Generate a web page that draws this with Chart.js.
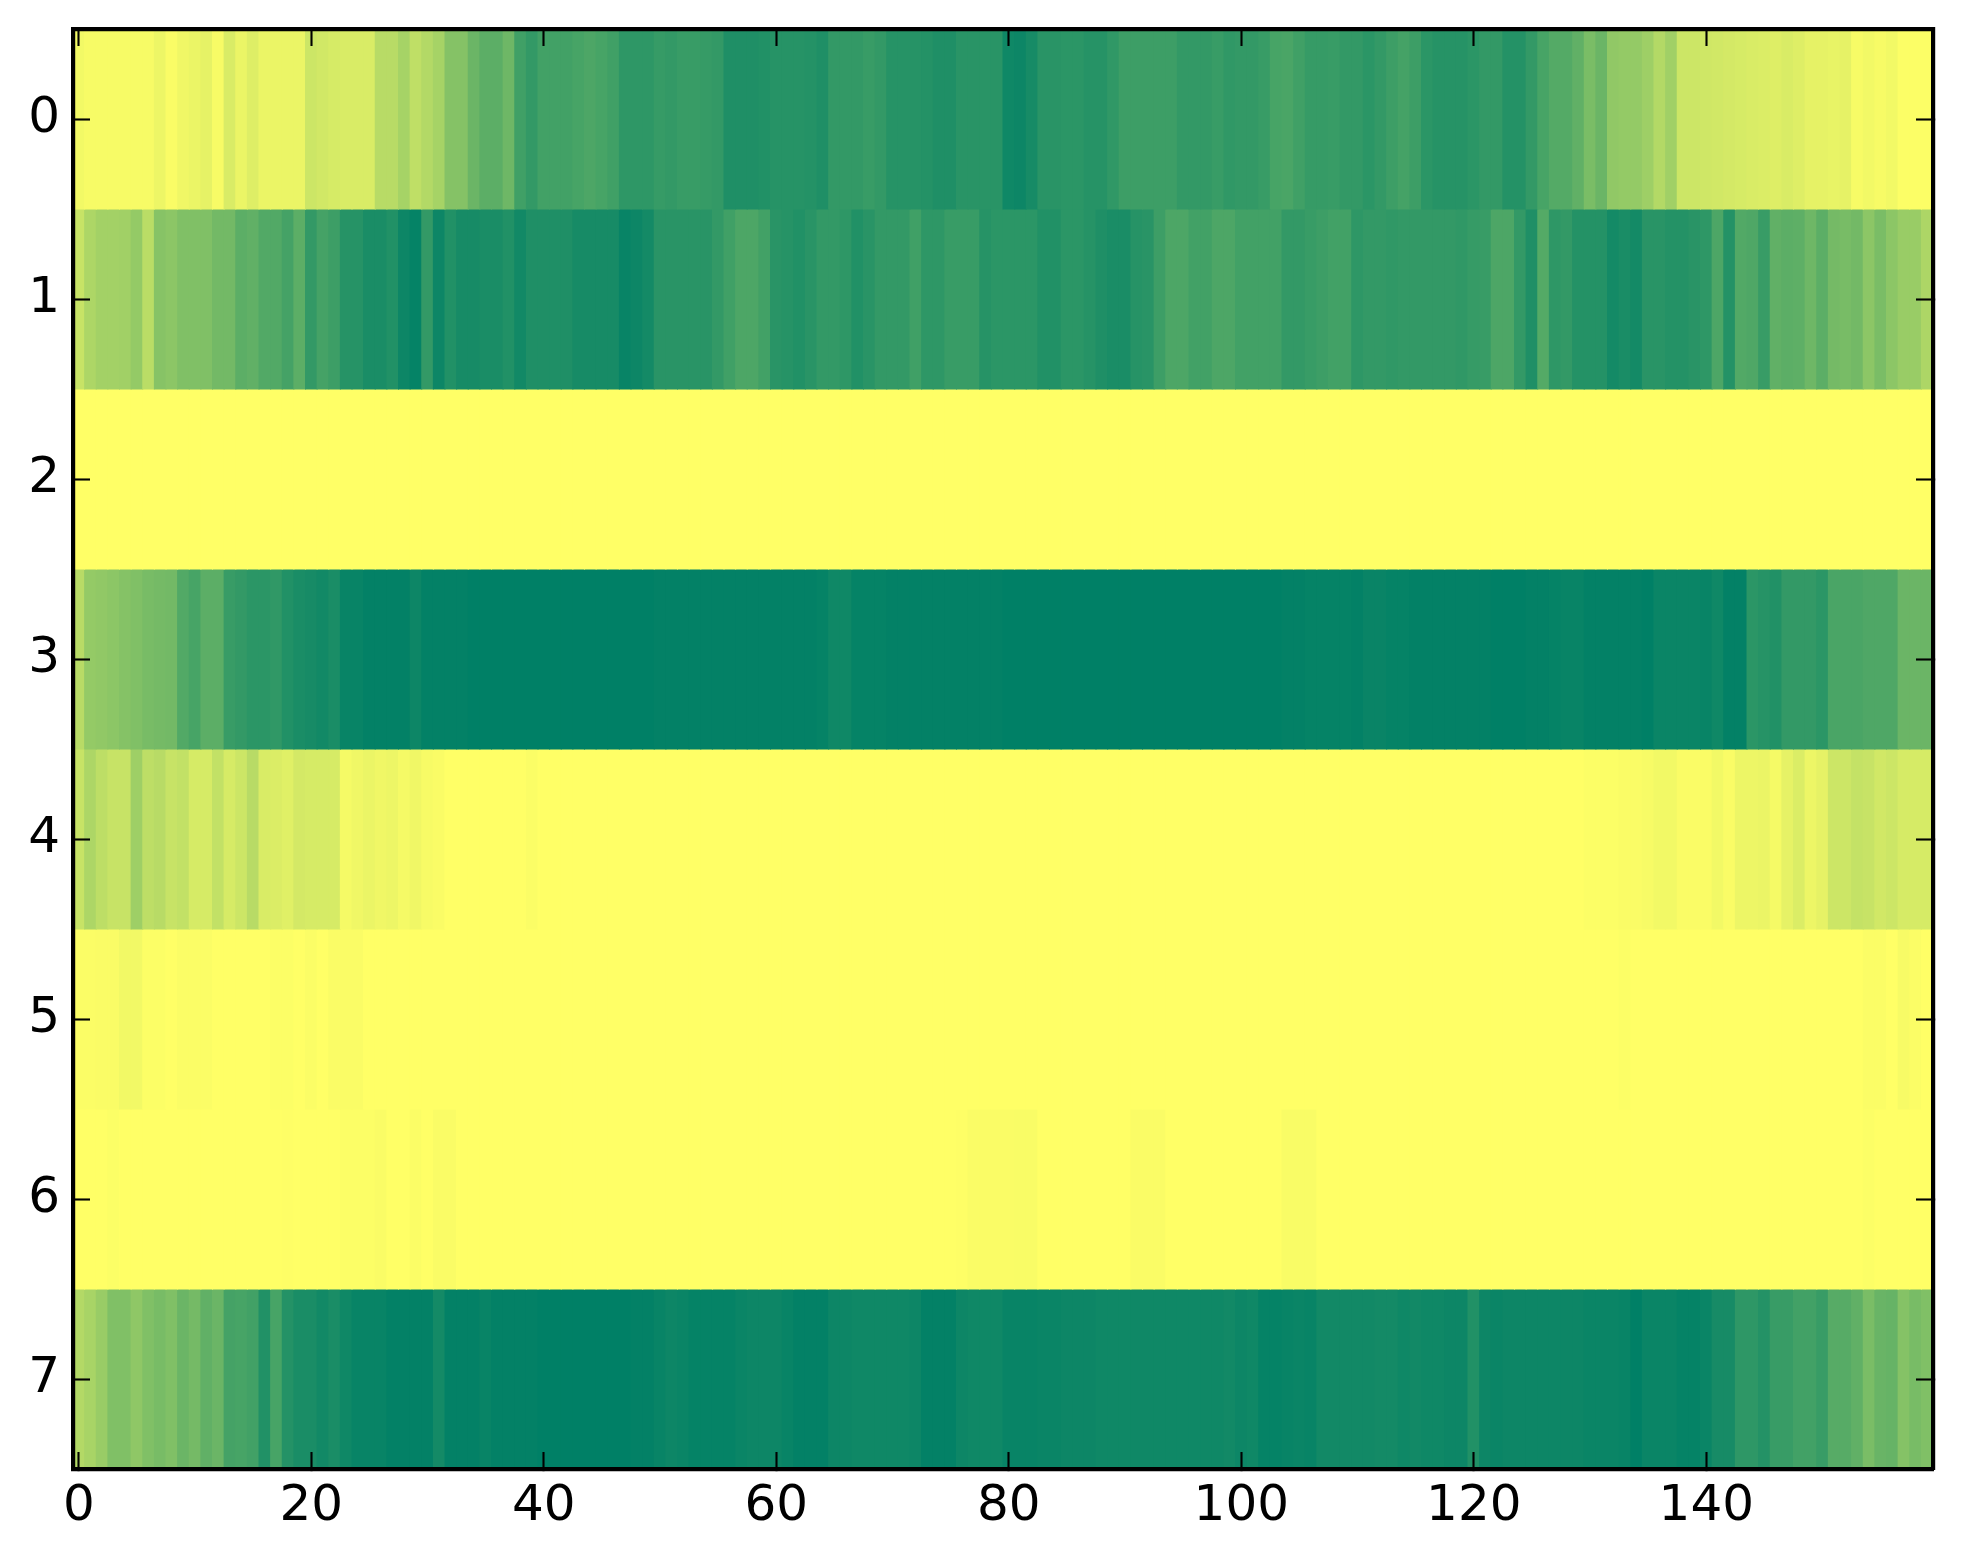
<!DOCTYPE html>
<html>
<head>
<meta charset="utf-8">
<title>Heatmap</title>
<script src="https://cdn.jsdelivr.net/npm/chart.js@4"></script>
<style>
  html, body { margin: 0; padding: 0; background: #fff; }
  canvas { display: block; }
</style>
</head>
<body>
<canvas id="heatmap" width="1963" height="1564"></canvas>
<script>
const rowLabels = ['0', '1', '2', '3', '4', '5', '6', '7'];
const xTickValues = [0, 20, 40, 60, 80, 100, 120, 140];

// cell levels, 0 = dark green end, 1 = yellow end. 20 columns per line
const row0 = [
  .95,.97,.97,.97,.97,.97,.97,.93,.98,.94,.92,.90,.97,.85,.92,.87,.92,.92,.92,.92,
  .80,.82,.84,.85,.85,.85,.72,.72,.65,.75,.70,.65,.52,.52,.42,.36,.36,.43,.25,.20,
  .26,.26,.26,.28,.30,.28,.25,.18,.18,.18,.21,.20,.22,.22,.21,.20,.12,.12,.12,.13,
  .15,.15,.15,.14,.12,.20,.20,.20,.22,.20,.15,.15,.15,.14,.12,.12,.16,.16,.16,.16,
  .06,.05,.09,.16,.16,.17,.17,.15,.15,.19,.24,.24,.24,.24,.24,.20,.20,.20,.22,.19,
  .20,.20,.22,.28,.29,.25,.21,.21,.22,.20,.20,.17,.20,.24,.27,.24,.17,.15,.15,.15,
  .17,.20,.20,.14,.14,.20,.28,.33,.33,.38,.48,.42,.57,.58,.58,.62,.70,.63,.80,.80,
  .81,.82,.83,.84,.85,.86,.87,.85,.87,.90,.90,.91,.90,.97,.95,.97,.95,.99,.99,.99
];
const row1 = [
  .78,.68,.64,.64,.63,.58,.73,.53,.55,.50,.50,.50,.45,.45,.36,.38,.32,.32,.27,.36,
  .20,.27,.24,.15,.15,.10,.10,.13,.05,.02,.20,.05,.13,.09,.09,.10,.10,.13,.07,.12,
  .12,.12,.12,.09,.09,.09,.09,.03,.05,.08,.16,.16,.16,.16,.16,.20,.25,.30,.30,.26,
  .16,.15,.13,.16,.20,.20,.18,.13,.16,.20,.20,.20,.25,.18,.18,.22,.22,.22,.15,.17,
  .17,.17,.17,.13,.13,.17,.17,.15,.12,.10,.10,.15,.16,.24,.30,.30,.26,.26,.30,.30,
  .26,.26,.26,.26,.20,.20,.22,.24,.26,.26,.18,.20,.20,.19,.20,.20,.20,.20,.20,.19,
  .21,.22,.30,.30,.20,.12,.33,.18,.20,.14,.14,.14,.08,.10,.08,.16,.16,.14,.14,.16,
  .18,.30,.14,.32,.31,.22,.38,.36,.37,.43,.36,.46,.47,.45,.55,.48,.55,.60,.60,.68
];
const row2 = [
  1,1,1,1,1,1,1,1,1,1,1,1,1,1,1,1,1,1,1,1,
  1,1,1,1,1,1,1,1,1,1,1,1,1,1,1,1,1,1,1,1,
  1,1,1,1,1,1,1,1,1,1,1,1,1,1,1,1,1,1,1,1,
  1,1,1,1,1,1,1,1,1,1,1,1,1,1,1,1,1,1,1,1,
  1,1,1,1,1,1,1,1,1,1,1,1,1,1,1,1,1,1,1,1,
  1,1,1,1,1,1,1,1,1,1,1,1,1,1,1,1,1,1,1,1,
  1,1,1,1,1,1,1,1,1,1,1,1,1,1,1,1,1,1,1,1,
  1,1,1,1,1,1,1,1,1,1,1,1,1,1,1,1,1,1,1,1
];
const row3 = [
  .72,.58,.57,.55,.52,.50,.47,.46,.45,.32,.28,.36,.36,.22,.20,.17,.17,.19,.13,.10,
  .09,.07,.10,.03,.03,.01,.01,.01,.01,.05,.01,.01,.01,.01,0,0,0,0,0,0,
  0,0,0,0,0,0,0,0,0,0,.01,.01,.01,.01,.01,.01,.01,.01,.01,.01,
  .01,.01,.01,.01,.02,.06,.06,.02,.02,.02,.01,.01,.01,.01,.01,.01,.01,.01,.01,.01,
  0,0,0,0,0,0,0,0,0,0,0,0,0,0,0,0,0,0,0,0,
  0,0,0,0,.01,.01,.02,.02,.02,.02,.01,.035,.035,.02,.02,.01,.01,.01,.01,.01,
  .01,.01,0,0,0,.01,.01,.02,.03,.03,.01,.01,.01,.01,.01,0,.04,.04,.04,.04,
  .03,.06,.01,.01,.17,.15,.13,.20,.20,.20,.17,.29,.29,.29,.31,.31,.31,.42,.42,.42
];
const row4 = [
  .78,.68,.74,.78,.78,.62,.74,.72,.78,.76,.84,.84,.76,.84,.80,.72,.85,.86,.88,.83,
  .84,.84,.84,.96,.94,.92,.94,.93,.96,.94,.97,.98,1,1,1,1,1,1,1,.985,
  1,1,1,1,1,1,1,1,1,1,1,1,1,1,1,1,1,1,1,1,
  1,1,1,1,1,1,1,1,1,1,1,1,1,1,1,1,1,1,1,1,
  1,1,1,1,1,1,1,1,1,1,1,1,1,1,1,1,1,1,1,1,
  1,1,1,1,1,1,1,1,1,1,1,1,1,1,1,1,1,1,1,1,
  1,1,1,1,1,1,1,1,1,1,.99,.99,.99,.98,.98,.97,.95,.95,.98,.98,
  .98,.95,.98,.93,.93,.92,.96,.90,.86,.93,.90,.80,.80,.77,.78,.82,.80,.84,.84,.84
];
const row5 = [
  .985,.985,.98,.98,.95,.95,.99,.99,1,.985,.985,.985,1,1,1,1,1,.99,.99,1,
  .985,1,.98,.98,.98,1,1,1,1,1,1,1,1,1,1,1,1,1,1,1,
  1,1,1,1,1,1,1,1,1,1,1,1,1,1,1,1,1,1,1,1,
  1,1,1,1,1,1,1,1,1,1,1,1,1,1,1,1,1,1,1,1,
  1,1,1,1,1,1,1,1,1,1,1,1,1,1,1,1,1,1,1,1,
  1,1,1,1,1,1,1,1,1,1,1,1,1,1,1,1,1,1,1,1,
  1,1,1,1,1,1,1,1,1,1,1,1,1,.99,1,1,1,1,1,1,
  1,1,1,1,1,1,1,1,1,1,1,1,1,1,.985,.985,1,.97,.985,1
];
const row6 = [
  1,1,1,.99,1,1,1,1,1,1,1,1,1,1,1,1,1,1,.995,1,
  1,1,1,.99,.99,.99,.98,1,1,.985,1,.98,.98,1,1,1,1,1,1,1,
  1,1,1,1,1,1,1,1,1,1,1,1,1,1,1,1,1,1,1,1,
  1,1,1,1,1,1,1,1,1,1,1,1,1,1,1,1,.995,.98,.98,.98,
  .98,.975,.975,1,1,1,1,1,1,1,1,.98,.98,.98,1,1,1,1,1,1,
  1,1,1,1,.975,.975,.975,1,1,1,1,1,1,1,1,1,1,1,1,1,
  1,1,1,1,1,1,1,1,1,1,1,1,1,1,1,1,1,1,1,1,
  1,1,1,1,1,1,1,1,1,1,1,1,1,1,.99,1,1,1,1,1
];
const row7 = [
  .70,.66,.60,.50,.50,.56,.50,.47,.50,.42,.46,.38,.42,.27,.28,.26,.13,.28,.14,.10,
  .10,.07,.10,.06,.03,.03,.03,.01,.01,.01,.01,.08,.01,.01,.01,.03,.01,.01,.01,.01,
  0,0,0,0,0,0,0,0,.01,.01,.03,.05,.04,.02,.02,.02,.02,.04,.05,.05,
  .05,.03,.01,.01,.01,.05,.05,.06,.06,.06,.06,.06,.05,.01,.01,.01,.05,.06,.06,.06,
  .03,.03,.03,.04,.04,.05,.05,.05,.06,.06,.06,.06,.06,.06,.06,.06,.06,.06,.06,.07,
  .05,.06,.02,.02,.03,.04,.03,.07,.07,.07,.07,.07,.08,.08,.06,.07,.06,.06,.05,.05,
  .13,.05,.04,.05,.05,.05,.05,.05,.05,.05,.04,.04,.04,.03,0,.04,.04,.04,.02,.02,
  .04,.09,.09,.18,.18,.14,.22,.22,.26,.26,.22,.34,.34,.38,.48,.41,.40,.52,.47,.50
];
const rows = [row0, row1, row2, row3, row4, row5, row6, row7];

// matplotlib summer_r
function levelColor(v) {
  return `rgb(${Math.round(255 * v)}, ${Math.round(128 + 127 * v)}, 102)`;
}

const tickFont = { family: '"DejaVu Sans"', size: 50 };
const spineWidth = 4.2;
const tickLen = -17; // negative so ticks point into the plot

function xAxis(position, showLabels, boxHeight) {
  return {
    type: 'linear', axis: 'x', position: position, min: -0.5, max: 159.5,
    afterBuildTicks: s => { s.ticks = xTickValues.map(v => ({ value: v })); },
    afterFit: s => { s.height = boxHeight; s.paddingLeft = 0; s.paddingRight = 0; },
    grid: { drawOnChartArea: false, tickLength: tickLen, tickWidth: 2.1, tickColor: '#000', z: 1 },
    border: { display: true, color: '#000', width: spineWidth, z: 2 },
    ticks: { display: showLabels, color: '#000', font: tickFont, padding: 25, maxRotation: 0, autoSkip: false }
  };
}

function yAxis(position, showLabels, boxWidth) {
  return {
    type: 'category', axis: 'y', position: position, labels: rowLabels, offset: true,
    afterFit: s => { s.width = boxWidth; s.paddingTop = 0; s.paddingBottom = 0; },
    grid: { offset: false, drawOnChartArea: false, tickLength: tickLen, tickWidth: 2.1, tickColor: '#000', z: 1 },
    border: { display: true, color: '#000', width: spineWidth, z: 2 },
    ticks: { display: showLabels, color: '#000', font: tickFont, padding: 30, autoSkip: false }
  };
}

new Chart(document.getElementById('heatmap'), {
  type: 'bar',
  data: {
    labels: rowLabels,
    datasets: rows.map((row, r) => ({
      data: row.map((v, c) => ({ x: [c - 0.5, c + 0.5], y: rowLabels[r] })),
      backgroundColor: row.map(levelColor),
      borderWidth: 0,
      inflateAmount: 0.5,
      grouped: false,
      barPercentage: 1,
      categoryPercentage: 1
    }))
  },
  options: {
    indexAxis: 'y',
    responsive: false,
    animation: false,
    events: [],
    layout: { padding: { top: 29, right: 30, left: 0, bottom: 0 } },
    scales: {
      x: xAxis('bottom', true, 95),
      y: yAxis('left', true, 73),
      x2: xAxis('top', false, 0),
      y2: yAxis('right', false, 0)
    },
    plugins: { legend: { display: false }, title: { display: false }, tooltip: { enabled: false } }
  }
});
</script>
</body>
</html>
